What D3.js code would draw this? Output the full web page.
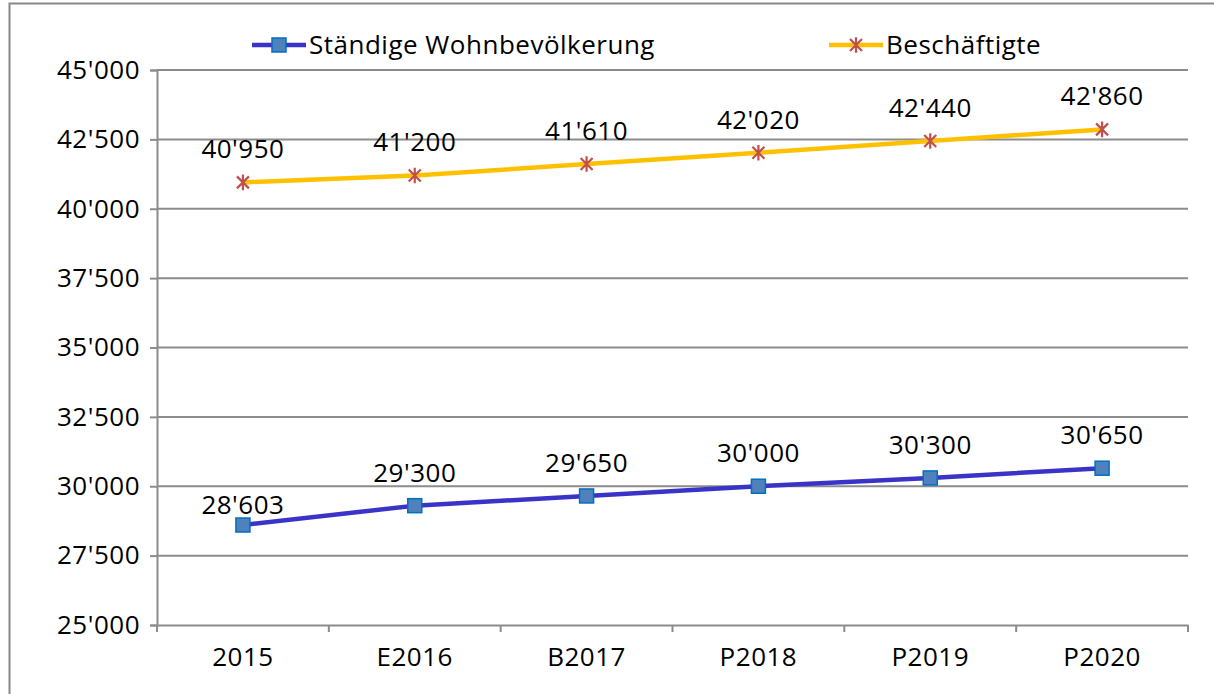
<!DOCTYPE html>
<html>
<head>
<meta charset="utf-8">
<script src="https://cdn.jsdelivr.net/npm/d3@7"></script>
<style>
  body { margin: 0; background: #fff; }
  svg text { font-family: "Open Sans", "Noto Sans", sans-serif; fill: #000; letter-spacing: 0.5px; }
</style>
</head>
<body>
<div id="container"></div>
<script>
const categories = ["2015", "E2016", "B2017", "P2018", "P2019", "P2020"];
const wohnbevoelkerung = [28603, 29300, 29650, 30000, 30300, 30650];
const beschaeftigte = [40950, 41200, 41610, 42020, 42440, 42860];
const yTicks = [25000, 27500, 30000, 32500, 35000, 37500, 40000, 42500, 45000];
const seriesNames = ["Ständige Wohnbevölkerung", "Beschäftigte"];

const width = 1214, height = 694;
const margin = { top: 70, right: 26, bottom: 69, left: 157 };
const fontSize = "26px";

const fmt = v => d3.format(",")(v).replace(/,/g, "'");

let svg = d3.select("#container").append("svg")
    .attr("width", width)
    .attr("height", height);

// outer chart frame (partly outside the window)
svg.append("rect")
    .attr("x", 9.5).attr("y", 3.5)
    .attr("width", width + 20).attr("height", height + 20)
    .attr("fill", "none")
    .attr("stroke", "#888")
    .attr("stroke-width", 2);

let x = d3.scaleBand()
    .domain(categories)
    .range([margin.left, width - margin.right]);

let y = d3.scaleLinear()
    .domain([25000, 45000])
    .range([height - margin.bottom, margin.top]);

// gridlines
svg.append("g")
    .selectAll("line")
    .data(yTicks.slice(1))
    .enter().append("line")
    .attr("x1", margin.left).attr("x2", width - margin.right)
    .attr("y1", d => y(d)).attr("y2", d => y(d))
    .attr("stroke", "#8c8c8c")
    .attr("stroke-width", 2);

// y axis
let yAxis = svg.append("g")
    .attr("transform", `translate(${margin.left},0)`)
    .call(d3.axisLeft(y).tickValues(yTicks).tickFormat(fmt).tickSize(7).tickPadding(10));
yAxis.select(".domain").attr("stroke", "#8c8c8c").attr("stroke-width", 2);
yAxis.selectAll(".tick line").attr("stroke", "#8c8c8c").attr("stroke-width", 2);
yAxis.selectAll("text").style("font-size", fontSize).attr("fill", "#000");

// x axis with ticks on band edges
let xAxis = svg.append("g")
    .attr("transform", `translate(0,${height - margin.bottom})`)
    .call(d3.axisBottom(x).tickSize(0).tickPadding(23));
xAxis.select(".domain").attr("stroke", "#8c8c8c").attr("stroke-width", 2);
xAxis.selectAll("text").style("font-size", fontSize).attr("fill", "#000");
let edges = categories.map(c => x(c)).concat([x(categories[categories.length - 1]) + x.bandwidth()]);
xAxis.selectAll(".edge")
    .data(edges)
    .enter().append("line")
    .attr("x1", d => d).attr("x2", d => d)
    .attr("y1", 0).attr("y2", 7)
    .attr("stroke", "#8c8c8c")
    .attr("stroke-width", 2);

const cx = c => x(c) + x.bandwidth() / 2;

let line = d3.line()
    .x((d, i) => cx(categories[i]))
    .y(d => y(d));

function starMarker(g, s) {
    g.append("path")
        .attr("d", `M${-s},${-s}L${s},${s}M${-s},${s}L${s},${-s}M0,${-s * 1.3}L0,${s * 1.3}`)
        .attr("stroke", "#c0504d")
        .attr("stroke-width", 2.2)
        .attr("fill", "none");
}

function squareMarker(g, s) {
    g.append("rect")
        .attr("x", -s).attr("y", -s)
        .attr("width", 2 * s).attr("height", 2 * s)
        .attr("fill", "#4f81bd")
        .attr("stroke", "#0070c0")
        .attr("stroke-width", 1.5);
}

const series = [
    { name: seriesNames[0], values: wohnbevoelkerung, color: "#3a33c8", marker: squareMarker },
    { name: seriesNames[1], values: beschaeftigte, color: "#ffc000", marker: starMarker }
];

series.forEach((s, si) => {
    svg.append("path")
        .datum(s.values)
        .attr("fill", "none")
        .attr("stroke", s.color)
        .attr("stroke-width", 4.5)
        .attr("d", line);

    svg.selectAll(".pt" + si)
        .data(s.values)
        .enter().append("g")
        .attr("class", "pt" + si)
        .attr("transform", (d, i) => `translate(${cx(categories[i])},${y(d)})`)
        .each(function () { s.marker(d3.select(this), si === 0 ? 7 : 6); });

    svg.selectAll(".lbl" + si)
        .data(s.values)
        .enter().append("text")
        .attr("class", "lbl" + si)
        .attr("x", (d, i) => cx(categories[i]))
        .attr("y", (d, i) => y(d) - (si === 0 && i === 0 ? 11 : 24))
        .attr("text-anchor", "middle")
        .style("font-size", fontSize)
        .text(d => fmt(d));
});

// legend
const legendPos = [252, 829];
series.forEach((s, si) => {
    let lg = svg.append("g").attr("transform", `translate(${legendPos[si]},45)`);
    lg.append("line")
        .attr("x1", 0).attr("x2", 54)
        .attr("stroke", s.color)
        .attr("stroke-width", 4.5);
    let m = lg.append("g").attr("transform", "translate(27,0)");
    s.marker(m, si === 0 ? 7 : 6);
    lg.append("text")
        .attr("x", 57).attr("y", 9)
        .style("font-size", fontSize)
        .text(s.name);
});
</script>
</body>
</html>
